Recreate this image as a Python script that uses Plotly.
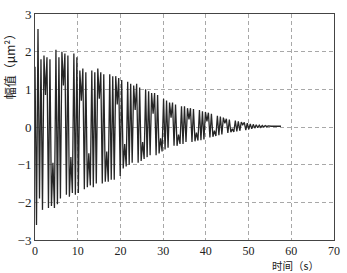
import plotly.graph_objects as go

# time (s) of each turning point
t = [0.00, 0.35, 0.70, 1.05, 1.40, 1.75, 2.10, 2.45, 2.80, 3.15, 3.50, 3.85, 4.20, 4.55, 4.90,
     5.25, 5.60, 5.95, 6.30, 6.65, 7.00, 7.35, 7.70, 8.05, 8.40, 8.75, 9.10, 9.45, 9.80,
     10.15, 10.50, 10.85, 11.20, 11.55, 11.90, 12.25, 12.60, 12.95, 13.30, 13.65, 14.00, 14.35, 14.70,
     15.05, 15.40, 15.75, 16.10, 16.45, 16.80, 17.15, 17.50, 17.85, 18.20, 18.55, 18.90, 19.25, 19.60,
     19.95, 20.30, 20.65, 21.00, 21.35, 21.70, 22.05, 22.40, 22.75, 23.10, 23.45, 23.80, 24.15, 24.50,
     24.85, 25.20, 25.55, 25.90, 26.25, 26.60, 26.95, 27.30, 27.65, 28.00, 28.35, 28.70, 29.05, 29.40,
     29.75, 30.10, 30.45, 30.80, 31.15, 31.50, 31.85, 32.20, 32.55, 32.90, 33.25, 33.60, 33.95, 34.30,
     34.65, 35.00, 35.35, 35.70, 36.05, 36.40, 36.75, 37.10, 37.45, 37.80, 38.15, 38.50, 38.85, 39.20,
     39.55, 39.90, 40.25, 40.60, 40.95, 41.30, 41.65, 42.00, 42.35, 42.70, 43.05, 43.40, 43.75, 44.10,
     44.45, 44.80, 45.15, 45.50, 45.85, 46.20, 46.55, 46.90, 47.25, 47.60, 47.95, 48.30, 48.65, 49.00,
     49.35, 49.70, 50.05, 50.40, 50.75, 51.10, 51.45, 51.80, 52.15, 52.50, 52.85, 53.20, 53.55, 53.90,
     54.25, 54.60, 54.95, 55.30, 57.60]

# amplitude (um^2) at each turning point
amp = [1.60, -2.60, 2.60, -1.90, 1.80, -2.20, 1.90, 0.85, 1.85, -2.15, 1.80, -2.10, -0.95, -2.15, 2.05,
       -2.05, 1.85, -1.90, 2.00, 1.10, 1.95, -1.80, 1.90, -1.85, -0.80, -1.75, 1.95, -1.80, 1.85,
       -1.75, 1.50, 0.70, 1.55, -1.65, 1.45, -1.60, -0.70, -1.55, 1.50, -1.60, 1.45, -1.50, 1.55,
       0.75, 1.45, -1.50, 1.40, -1.45, -0.65, -1.45, 1.40, -1.40, 1.35, -1.40, 1.35, 0.60, 1.30,
       -1.30, 1.25, -1.10, -0.45, -1.05, 1.20, -1.00, 1.15, -0.95, 1.10, 0.45, 1.15, -0.95, 1.05,
       -0.90, -0.40, -0.85, 1.00, -0.80, 0.95, -0.75, 0.90, 0.35, 0.90, -0.75, 0.85, -0.70, -0.30,
       -0.65, 0.75, -0.60, 0.70, -0.55, 0.65, 0.25, 0.65, -0.50, 0.60, -0.50, -0.20, -0.45, 0.55,
       -0.45, 0.55, -0.40, 0.50, 0.20, 0.50, -0.40, 0.48, -0.38, -0.15, -0.36, 0.45, -0.35, 0.42,
       -0.33, 0.40, 0.15, 0.38, -0.28, 0.35, -0.26, -0.10, -0.24, 0.30, -0.22, 0.28, -0.20, 0.25,
       0.10, 0.22, -0.16, 0.20, -0.14, -0.05, -0.13, 0.17, -0.12, 0.15, -0.10, 0.13, 0.06, 0.12,
       -0.08, 0.10, -0.06, 0.08, -0.05, 0.07, -0.03, 0.06, -0.02, 0.05, -0.01, 0.04, 0.00, 0.04,
       0.01, 0.03, 0.02, 0.02, 0.02]

x_ticks = [0, 10, 20, 30, 40, 50, 60, 70]
y_ticks = [-3, -2, -1, 0, 1, 2, 3]

fig = go.Figure()
fig.add_trace(go.Scatter(x=t, y=amp, mode="lines",
                         line=dict(color="#262626", width=1.3),
                         showlegend=False, hoverinfo="skip"))

axis_common = dict(showline=True, linecolor="#444444", linewidth=1, mirror=True,
                   showgrid=True, gridcolor="#a8a8a8", griddash="4px,3px", gridwidth=1,
                   zeroline=False, ticks="",
                   tickfont=dict(family="Liberation Serif, serif", size=13, color="#222222"))

fig.update_xaxes(range=[0, 70], tickvals=x_ticks, **axis_common)
fig.update_yaxes(range=[-3, 3], tickvals=y_ticks, **axis_common)
fig.update_xaxes(tickfont_size=12)

fig.update_layout(
    width=347, height=273,
    margin=dict(l=35, r=7, t=14, b=33),
    paper_bgcolor="white", plot_bgcolor="white",
    annotations=[
        dict(text="时间（s）", xref="paper", yref="paper", x=0.87, y=-0.113,
             xanchor="center", yanchor="middle", showarrow=False,
             font=dict(family="Noto Sans CJK SC", size=10.5, color="#222222")),
        dict(text="幅值（μm²）", xref="paper", yref="paper", x=-0.085, y=0.78,
             xanchor="center", yanchor="middle", showarrow=False, textangle=-90,
             font=dict(family="Noto Sans CJK SC", size=12, color="#222222")),
    ],
)

fig.write_html("out.html")
